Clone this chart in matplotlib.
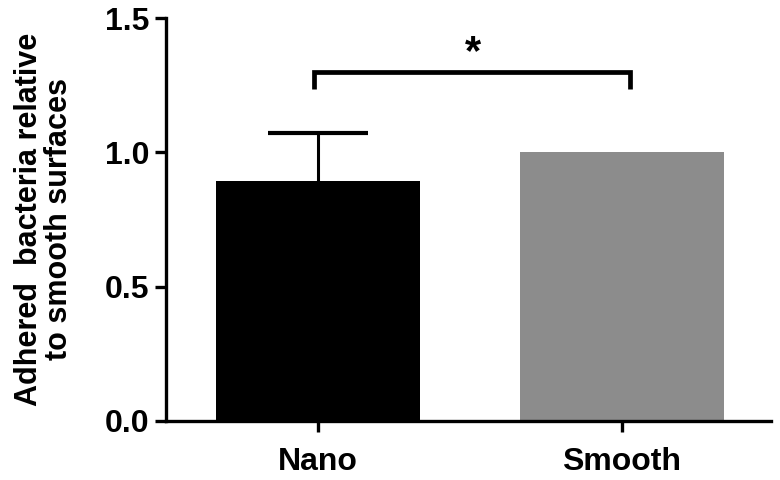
import matplotlib
matplotlib.use("Agg")
import matplotlib.pyplot as plt

categories = ["Nano", "Smooth"]
values = [0.895, 1.0]
errors = [0.178, 0.0]
bar_colors = ["#000000", "#8c8c8c"]
yticks = [0.0, 0.5, 1.0, 1.5]
ytick_labels = ["0.0", "0.5", "1.0", "1.5"]
bracket_y = 1.30
bracket_leg = 1.235
star_label = "*"

plt.rcParams['font.family'] = ['Liberation Sans', 'DejaVu Sans']
plt.rcParams['font.weight'] = 'bold'

fig = plt.figure(figsize=(7.8, 4.8), dpi=100)
ax = fig.add_axes([0.213, 0.123, 0.775, 0.8395])

x = list(range(len(categories)))
ax.bar(x, values, width=0.67, color=bar_colors, zorder=2)

# upper-only error bar with cap
cap_half = 0.165
for xi, v, e in zip(x, values, errors):
    if e > 0:
        ax.vlines(xi, v, v + e, color='black', lw=2.2, zorder=1)
        ax.hlines(v + e, xi - cap_half, xi + cap_half, color='black', lw=3.0, zorder=1)

# significance bracket
xl, xr = -0.013, 1.026
ax.plot([xl, xl, xr, xr], [bracket_leg, bracket_y, bracket_y, bracket_leg],
        color='black', lw=3.4, solid_joinstyle='miter', solid_capstyle='butt',
        clip_on=False)
ax.text(0.51, bracket_y - 0.005, star_label, ha='center', va='bottom',
        fontsize=30, fontweight='bold')

ax.set_xlim(-0.5, 1.49)
ax.set_ylim(0, 1.5)
ax.set_yticks(yticks)
ax.set_yticklabels(ytick_labels)
ax.set_xticks(x)
ax.set_xticklabels(categories)

for s in ['top', 'right']:
    ax.spines[s].set_visible(False)
for s in ['left', 'bottom']:
    ax.spines[s].set_linewidth(2.4)

ax.tick_params(axis='both', width=2.4, length=8, labelsize=23, pad=4)
ax.tick_params(axis='x', pad=11)
for lab in ax.get_xticklabels() + ax.get_yticklabels():
    lab.set_fontweight('bold')

ax.set_ylabel("Adhered  bacteria relative\nto smooth surfaces", fontsize=22,
              fontweight='bold', labelpad=22, linespacing=1.0)

fig.savefig("out.png", dpi=100)
